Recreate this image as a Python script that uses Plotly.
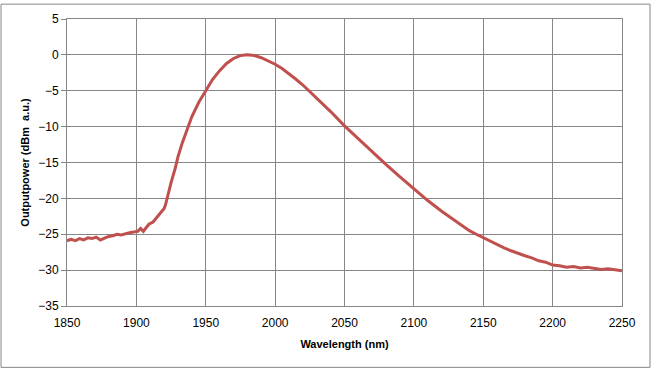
import plotly.graph_objects as go

wavelength = [1850, 1853, 1856, 1859, 1862, 1865, 1868, 1871, 1874, 1877, 1880, 1883, 1886, 1889,
              1892, 1895, 1898, 1901, 1903, 1905, 1907, 1909, 1912, 1915, 1918, 1920, 1921, 1923,
              1925, 1928, 1930, 1933, 1936, 1940, 1945, 1950, 1955, 1960, 1965, 1970, 1975, 1980,
              1985, 1990, 1995, 2000, 2005, 2010, 2015, 2020, 2030, 2040, 2050, 2060, 2070, 2080, 2090, 2100,
              2110, 2120, 2130, 2140, 2145, 2150, 2155, 2160, 2165, 2170, 2175, 2180, 2185, 2190,
              2195, 2200, 2205, 2210, 2215, 2220, 2225, 2230, 2235, 2240, 2245, 2250]
power = [-25.9, -25.7, -25.9, -25.6, -25.8, -25.5, -25.6, -25.4, -25.8, -25.5, -25.3, -25.2, -25.0, -25.1,
         -24.9, -24.8, -24.7, -24.6, -24.2, -24.6, -24.1, -23.6, -23.3, -22.6, -21.9, -21.4, -20.9, -19.2,
         -17.8, -15.8, -14.2, -12.3, -10.6, -8.6, -6.6, -4.9, -3.4, -2.2, -1.2, -0.5, -0.1, 0.0,
         -0.1, -0.4, -0.8, -1.3, -1.9, -2.6, -3.4, -4.2, -6.0, -7.9, -9.9, -11.7, -13.6, -15.3, -17.0, -18.7,
         -20.3, -21.8, -23.2, -24.5, -25.0, -25.5, -26.0, -26.4, -26.9, -27.3, -27.7, -28.0, -28.3, -28.7,
         -28.9, -29.3, -29.4, -29.6, -29.5, -29.7, -29.6, -29.8, -29.9, -29.8, -30.0, -30.1]

x_ticks = [1850, 1900, 1950, 2000, 2050, 2100, 2150, 2200, 2250]
y_ticks = [5, 0, -5, -10, -15, -20, -25, -30, -35]

W, H = 652, 372
ml, mr, mt, mb = 67, 30, 16, 66

fig = go.Figure()
fig.add_trace(go.Scatter(x=wavelength, y=power, mode="lines",
                         line=dict(color="#C0504D", width=3), showlegend=False))

tick_font = dict(family="Liberation Sans, Arial", size=12, color="#000000")
title_font = dict(family="Liberation Sans, Arial", size=11, color="#000000")
fig.update_layout(
    width=W, height=H,
    margin=dict(l=ml, r=mr, t=mt, b=mb),
    paper_bgcolor="white", plot_bgcolor="white",
    xaxis=dict(range=[1850, 2250], tickvals=x_ticks, showgrid=True, gridcolor="#868686",
               gridwidth=1, showline=True, linecolor="#868686", mirror=True,
               tickfont=tick_font, ticks="", zeroline=False, ticklabelstandoff=6,
               title=dict(text="<b>Wavelength (nm)</b>", font=title_font, standoff=10)),
    yaxis=dict(range=[-35, 5], tickvals=y_ticks, showgrid=True, gridcolor="#868686",
               gridwidth=1, showline=True, linecolor="#868686", mirror=True,
               tickfont=tick_font, ticks="outside", ticklen=5, tickcolor="#868686",
               zeroline=False,
               title=dict(text="<b>Outputpower (dBm  a.u.)</b>", font=title_font, standoff=6)),
)

pw = W - ml - mr
ph = H - mt - mb
fig.add_shape(type="rect", xref="paper", yref="paper",
              x0=(1 - ml) / pw, x1=(650 - ml) / pw,
              y0=(H - 368 - mb) / ph, y1=(H - 1 - mb) / ph,
              line=dict(color="#868686", width=1), fillcolor="rgba(0,0,0,0)", layer="below")

fig.write_html("out.html", config={"displayModeBar": False},
               post_script="document.body.style.margin='0';document.body.style.overflow='hidden';")
